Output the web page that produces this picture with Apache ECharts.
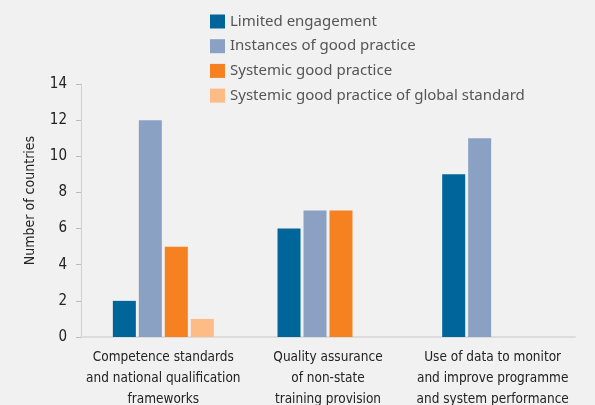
<!DOCTYPE html>
<html>
<head>
<meta charset="utf-8">
<script src="https://cdn.jsdelivr.net/npm/echarts@6/dist/echarts.min.js"></script>
<style>
  html, body { margin: 0; padding: 0; background: #f1f1f1; }
  #container { width: 595px; height: 405px; }
</style>
</head>
<body>
<div id="container"></div>
<script>
var categories = [
    'Competence standards\nand national qualification\nframeworks',
    'Quality assurance\nof non-state\ntraining provision',
    'Use of data to monitor\nand improve programme\nand system performance'
];
var seriesNames = [
    'Limited engagement',
    'Instances of good practice',
    'Systemic good practice',
    'Systemic good practice of global standard'
];
var limitedEngagement = [2, 6, 9];
var instancesGoodPractice = [12, 7, 11];
var systemicGoodPractice = [5, 7, null];
var systemicGlobalStandard = [1, null, null];
var yTicks = [0, 2, 4, 6, 8, 10, 12, 14];

var colors = ['#006699', '#8aa1c3', '#f68121', '#fdbb86'];
var seriesData = [limitedEngagement, instancesGoodPractice, systemicGoodPractice, systemicGlobalStandard];

var narrow = 'DejaVu Sans Condensed';

var dom = document.getElementById('container');
var myChart = echarts.init(dom);

var series = [];
for (var i = 0; i < seriesNames.length; i++) {
    series.push({
        name: seriesNames[i],
        type: 'bar',
        barWidth: 23,
        barGap: '13%',
        itemStyle: { color: colors[i] },
        data: seriesData[i]
    });
}

var option = {
    backgroundColor: '#f1f1f1',
    animation: false,
    color: colors,
    legend: {
        orient: 'vertical',
        left: 205,
        top: 9,
        itemWidth: 15,
        itemHeight: 14,
        itemGap: 9.7,
        icon: 'rect',
        data: seriesNames,
        textStyle: {
            fontFamily: 'Noto Sans',
            fontSize: 15,
            color: '#555'
        }
    },
    grid: {
        left: 81,
        right: 20,
        top: 84,
        bottom: 68,
        outerBoundsMode: 'none',
        containLabel: false
    },
    xAxis: {
        type: 'category',
        data: categories,
        axisLine: { lineStyle: { color: '#dcdcdc', width: 2 } },
        axisTick: { show: false },
        axisLabel: {
            fontFamily: narrow,
            fontSize: 13.5,
            color: '#222',
            lineHeight: 21,
            margin: 10,
            interval: 0
        }
    },
    yAxis: {
        type: 'value',
        min: yTicks[0],
        max: yTicks[yTicks.length - 1],
        interval: 2,
        name: 'Number of countries',
        nameLocation: 'middle',
        nameGap: 44,
        nameTextStyle: {
            fontFamily: narrow,
            fontSize: 14,
            color: '#222',
            padding: [0, 0, 0, 20]
        },
        splitLine: { show: false },
        axisLine: { show: true, lineStyle: { color: '#cfcfcf' } },
        axisTick: { show: true, length: 5, lineStyle: { color: '#bbb' } },
        axisLabel: {
            fontFamily: narrow,
            fontSize: 15,
            color: '#222',
            margin: 14
        }
    },
    series: series
};

myChart.setOption(option);
</script>
</body>
</html>
